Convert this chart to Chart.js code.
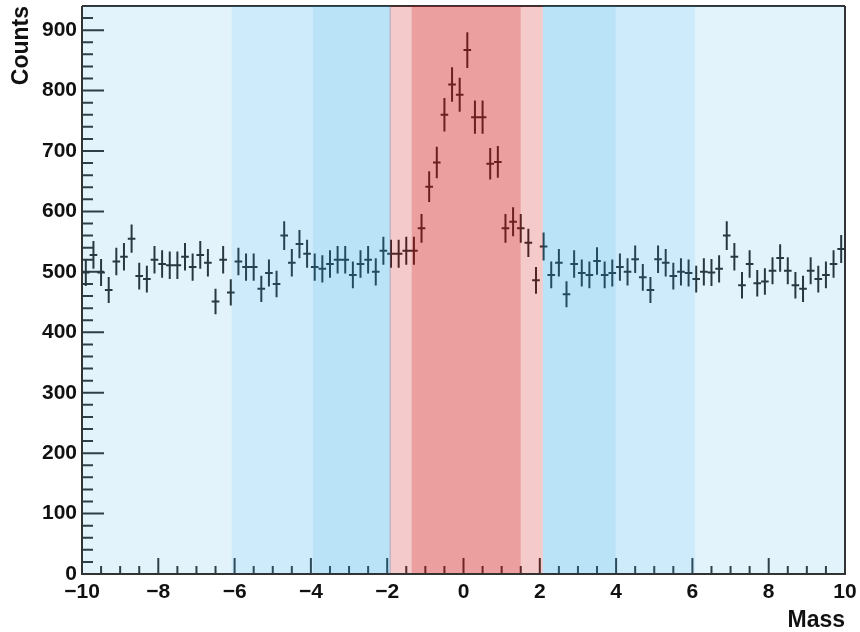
<!DOCTYPE html>
<html>
<head>
<meta charset="utf-8">
<script src="https://cdn.jsdelivr.net/npm/chart.js@4.4.1/dist/chart.umd.min.js"></script>
<style>
  html, body { margin: 0; padding: 0; background: #fff; }
  canvas { display: block; }
</style>
</head>
<body>
<canvas id="chart" width="860" height="632"></canvas>
<script>
// histogram: 100 bins of 0.2 from -10 to 10
const binLow = -10;
const binWidth = 0.2;
const counts = [
	499, 528, 499, 470, 517, 525, 555, 493, 488, 520,
	513, 511, 511, 525, 508, 528, 515, 451, 520, 466,
	517, 508, 508, 472, 498, 480, 560, 515, 546, 530,
	508, 505, 513, 520, 520, 495, 513, 520, 500, 535,
	530, 530, 535, 535, 572, 641, 681, 760, 810, 793,
	867, 756, 756, 679, 682, 572, 583, 572, 548, 486,
	542, 495, 515, 463, 513, 498, 495, 518, 495, 498,
	508, 500, 521, 491, 470, 521, 515, 493, 500, 498,
	488, 500, 499, 505, 560, 525, 478, 513, 481, 484,
	502, 523, 502, 478, 472, 502, 488, 495, 513, 538
];

// shaded mass windows (x units)
const bandStarts = [-10, -6.08, -3.95, -1.94, -1.36, 1.50, 2.08, 3.99, 6.07];
const bandEnds   = [-6.08, -3.95, -1.90, -1.36, 1.50, 2.08, 3.99, 6.07, 10];
const bandColors = [
	'rgba(20,160,230,0.12)',
	'rgba(20,160,230,0.21)',
	'rgba(20,160,230,0.29)',
	'rgba(205,15,15,0.22)',
	'rgba(205,15,15,0.40)',
	'rgba(205,15,15,0.22)',
	'rgba(20,160,230,0.29)',
	'rgba(20,160,230,0.21)',
	'rgba(20,160,230,0.12)'
];

const xTicks = [-10, -8, -6, -4, -2, 0, 2, 4, 6, 8, 10];
const yTicks = [0, 100, 200, 300, 400, 500, 600, 700, 800, 900];
const xMinorStep = 0.5;
const yMinorStep = 20;

const font = "'Liberation Sans', Arial, Helvetica, sans-serif";
const ink = '#2b2b2b';

const vertBars = [];
const horizBars = [];
counts.forEach((c, i) => {
	const x = binLow + (i + 0.5) * binWidth;
	const e = Math.sqrt(c);
	vertBars.push({x: x, y: c - e}, {x: x, y: c + e}, {x: x, y: null});
	horizBars.push({x: x - binWidth / 2, y: c}, {x: x + binWidth / 2, y: c}, {x: x, y: null});
});

const frame = {
	id: 'frame',
	beforeDatasetsDraw(chart) {
		const {ctx, chartArea: a, scales: {x, y}} = chart;
		ctx.save();
		ctx.strokeStyle = '#333';
		ctx.lineWidth = 2;
		ctx.beginPath();
		ctx.moveTo(a.left, a.top);
		ctx.lineTo(a.right, a.top);
		// inward tick marks
		for (let v = x.min; v <= x.max + 1e-9; v += xMinorStep) {
			const px = x.getPixelForValue(v);
			const major = xTicks.some(t => Math.abs(t - v) < 1e-6);
			ctx.moveTo(px, a.bottom);
			ctx.lineTo(px, a.bottom - (major ? 16 : 8));
		}
		for (let v = y.min; v <= y.max; v += yMinorStep) {
			const py = y.getPixelForValue(v);
			const major = yTicks.indexOf(v) >= 0;
			ctx.moveTo(a.left, py);
			ctx.lineTo(a.left + (major ? 22 : 11), py);
		}
		ctx.stroke();
		ctx.restore();
	},
	afterDatasetsDraw(chart) {
		const {ctx, chartArea: a, scales: {x}} = chart;
		ctx.save();
		bandStarts.forEach((s, i) => {
			const x0 = x.getPixelForValue(s);
			const x1 = x.getPixelForValue(bandEnds[i]);
			ctx.fillStyle = bandColors[i];
			ctx.fillRect(x0, a.top, x1 - x0, a.bottom - a.top);
		});
		ctx.strokeStyle = '#333';
		ctx.lineWidth = 2;
		ctx.beginPath();
		ctx.moveTo(a.left, a.top);
		ctx.lineTo(a.left, a.bottom);
		ctx.lineTo(a.right, a.bottom);
		ctx.lineTo(a.right, a.top);
		ctx.stroke();
		ctx.restore();
	}
};

const minus = v => String(v).replace('-', '\u2212');

new Chart(document.getElementById('chart').getContext('2d'), {
	type: 'line',
	data: {
		datasets: [
			{data: vertBars, borderColor: ink, borderWidth: 2, pointRadius: 0, spanGaps: false, tension: 0},
			{data: horizBars, borderColor: ink, borderWidth: 2, pointRadius: 0, spanGaps: false, tension: 0}
		]
	},
	options: {
		responsive: false,
		animation: false,
		layout: {padding: {top: 6, right: 15, left: 0, bottom: 0}},
		plugins: {legend: {display: false}, tooltip: {enabled: false}},
		scales: {
			x: {
				type: 'linear',
				min: -10,
				max: 10,
				afterBuildTicks: s => { s.ticks = xTicks.map(v => ({value: v})); },
				afterFit: s => { s.height = 58; s.paddingLeft = 0; s.paddingRight = 0; },
				grid: {display: false, drawTicks: false},
				border: {display: false},
				ticks: {
					padding: 6,
					color: '#111',
					font: {family: font, size: 21, weight: 'bold'},
					callback: v => minus(v),
					maxRotation: 0
				},
				title: {
					display: true,
					text: 'Mass',
					align: 'end',
					color: '#111',
					padding: {top: 0, bottom: -2},
					font: {family: font, size: 23, weight: 'bold'}
				}
			},
			y: {
				type: 'linear',
				min: 0,
				max: 940,
				afterBuildTicks: s => { s.ticks = yTicks.map(v => ({value: v})); },
				afterFit: s => { s.width = 82; s.paddingTop = 0; },
				grid: {display: false, drawTicks: false},
				border: {display: false},
				ticks: {
					padding: 5,
					color: '#111',
					font: {family: font, size: 21, weight: 'bold', lineHeight: 0.4}
				},
				title: {
					display: true,
					text: 'Counts',
					align: 'end',
					color: '#111',
					padding: {top: 8, bottom: 0},
					font: {family: font, size: 23, weight: 'bold'}
				}
			}
		}
	},
	plugins: [frame]
});
</script>
</body>
</html>
